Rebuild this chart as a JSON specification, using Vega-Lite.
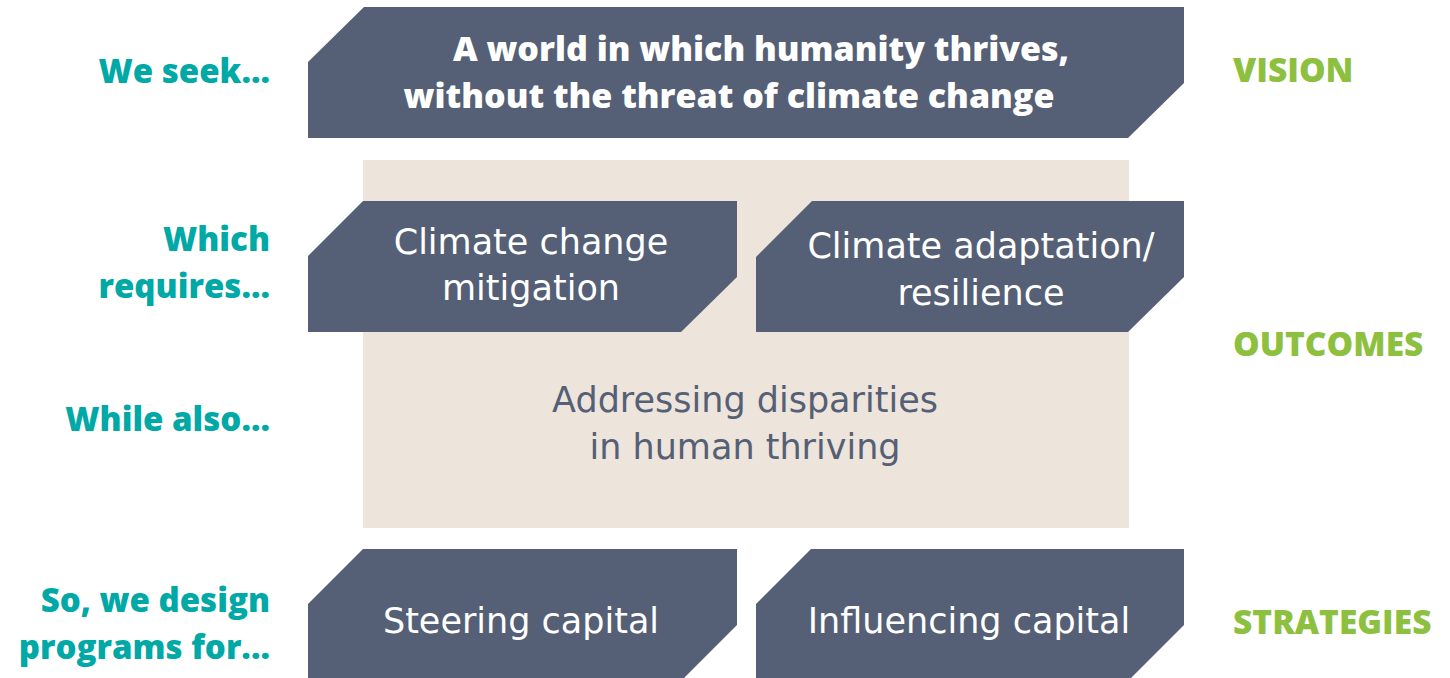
{
  "$schema": "https://vega.github.io/schema/vega-lite/v6.json",
  "width": 1450,
  "height": 678,
  "autosize": {"type": "fit", "contains": "padding"},
  "padding": 0,
  "background": "white",
  "config": {"view": {"stroke": null}},
  "datasets": {
    "panel": [{"name": "outcomes", "x0": 363, "x1": 1129, "y0": 160, "y1": 528}],
    "shapes": [
      {"shape": "vision", "x": 308, "top": 62, "bottom": 138},
      {"shape": "vision", "x": 364, "top": 7, "bottom": 138},
      {"shape": "vision", "x": 1128, "top": 7, "bottom": 138},
      {"shape": "vision", "x": 1184, "top": 7, "bottom": 83},
      {"shape": "mitigation", "x": 308, "top": 256, "bottom": 332},
      {"shape": "mitigation", "x": 363, "top": 201, "bottom": 332},
      {"shape": "mitigation", "x": 681, "top": 201, "bottom": 332},
      {"shape": "mitigation", "x": 737, "top": 201, "bottom": 277},
      {"shape": "adaptation", "x": 756, "top": 257, "bottom": 332},
      {"shape": "adaptation", "x": 812, "top": 201, "bottom": 332},
      {"shape": "adaptation", "x": 1128, "top": 201, "bottom": 332},
      {"shape": "adaptation", "x": 1184, "top": 201, "bottom": 277},
      {"shape": "steering", "x": 308, "top": 604, "bottom": 678},
      {"shape": "steering", "x": 363, "top": 549, "bottom": 678},
      {"shape": "steering", "x": 684, "top": 549, "bottom": 678},
      {"shape": "steering", "x": 737, "top": 549, "bottom": 625},
      {"shape": "influencing", "x": 756, "top": 604, "bottom": 678},
      {"shape": "influencing", "x": 811, "top": 549, "bottom": 678},
      {"shape": "influencing", "x": 1131, "top": 549, "bottom": 678},
      {"shape": "influencing", "x": 1184, "top": 549, "bottom": 625}
    ],
    "texts": [
      {"kind": "left", "label": "We seek...", "x": 270, "y": 73},
      {"kind": "left", "label": "Which", "x": 270, "y": 241},
      {"kind": "left", "label": "requires...", "x": 270, "y": 288},
      {"kind": "left", "label": "While also...", "x": 270, "y": 421},
      {"kind": "left", "label": "So, we design", "x": 270, "y": 602},
      {"kind": "left", "label": "programs for...", "x": 270, "y": 649},
      {"kind": "right", "label": "VISION", "x": 1233, "y": 72},
      {"kind": "right", "label": "OUTCOMES", "x": 1233, "y": 346},
      {"kind": "right", "label": "STRATEGIES", "x": 1233, "y": 624},
      {"kind": "vision", "label": "A world in which humanity thrives,", "x": 761, "y": 51},
      {"kind": "vision", "label": "without the threat of climate change", "x": 729, "y": 98},
      {"kind": "box", "label": "Climate change", "x": 531, "y": 243},
      {"kind": "box", "label": "mitigation", "x": 531, "y": 289},
      {"kind": "box", "label": "Climate adaptation/", "x": 981, "y": 247},
      {"kind": "box", "label": "resilience", "x": 981, "y": 294},
      {"kind": "box", "label": "Steering capital", "x": 521, "y": 622},
      {"kind": "box", "label": "Influencing capital", "x": 969, "y": 622},
      {"kind": "panel", "label": "Addressing disparities", "x": 745, "y": 401},
      {"kind": "panel", "label": "in human thriving", "x": 745, "y": 448}
    ]
  },
  "layer": [
    {
      "data": {"name": "panel"},
      "mark": {"type": "rect", "color": "#ede4db"},
      "encoding": {
        "x": {"field": "x0", "type": "quantitative", "scale": {"domain": [0, 1450], "nice": false, "zero": false}, "axis": null},
        "x2": {"field": "x1"},
        "y": {"field": "y0", "type": "quantitative", "scale": {"domain": [0, 678], "nice": false, "zero": false, "reverse": true}, "axis": null},
        "y2": {"field": "y1"}
      }
    },
    {
      "data": {"name": "shapes"},
      "mark": {"type": "area", "color": "#555f75", "interpolate": "linear"},
      "encoding": {
        "x": {"field": "x", "type": "quantitative", "scale": {"domain": [0, 1450], "nice": false, "zero": false}, "axis": null},
        "y": {"field": "top", "type": "quantitative", "scale": {"domain": [0, 678], "nice": false, "zero": false, "reverse": true}, "axis": null},
        "y2": {"field": "bottom"},
        "detail": {"field": "shape", "type": "nominal"}
      }
    },
    {
      "data": {"name": "texts"},
      "transform": [{"filter": "datum.kind === 'left'"}],
      "mark": {"type": "text", "align": "right", "baseline": "middle", "font": "Open Sans", "fontWeight": 800, "fontSize": 33, "color": "#00a8a6"},
      "encoding": {
        "x": {"field": "x", "type": "quantitative", "scale": {"domain": [0, 1450], "nice": false, "zero": false}, "axis": null},
        "y": {"field": "y", "type": "quantitative", "scale": {"domain": [0, 678], "nice": false, "zero": false, "reverse": true}, "axis": null},
        "text": {"field": "label"}
      }
    },
    {
      "data": {"name": "texts"},
      "transform": [{"filter": "datum.kind === 'right'"}],
      "mark": {"type": "text", "align": "left", "baseline": "middle", "font": "Open Sans", "fontWeight": 800, "fontSize": 33.5, "color": "#8dc03f"},
      "encoding": {
        "x": {"field": "x", "type": "quantitative", "scale": {"domain": [0, 1450], "nice": false, "zero": false}, "axis": null},
        "y": {"field": "y", "type": "quantitative", "scale": {"domain": [0, 678], "nice": false, "zero": false, "reverse": true}, "axis": null},
        "text": {"field": "label"}
      }
    },
    {
      "data": {"name": "texts"},
      "transform": [{"filter": "datum.kind === 'vision'"}],
      "mark": {"type": "text", "align": "center", "baseline": "middle", "font": "Open Sans", "fontWeight": 800, "fontSize": 34, "color": "#ffffff"},
      "encoding": {
        "x": {"field": "x", "type": "quantitative", "scale": {"domain": [0, 1450], "nice": false, "zero": false}, "axis": null},
        "y": {"field": "y", "type": "quantitative", "scale": {"domain": [0, 678], "nice": false, "zero": false, "reverse": true}, "axis": null},
        "text": {"field": "label"}
      }
    },
    {
      "data": {"name": "texts"},
      "transform": [{"filter": "datum.kind === 'box'"}],
      "mark": {"type": "text", "align": "center", "baseline": "middle", "font": "DejaVu Sans", "fontWeight": 400, "fontSize": 35, "color": "#ffffff"},
      "encoding": {
        "x": {"field": "x", "type": "quantitative", "scale": {"domain": [0, 1450], "nice": false, "zero": false}, "axis": null},
        "y": {"field": "y", "type": "quantitative", "scale": {"domain": [0, 678], "nice": false, "zero": false, "reverse": true}, "axis": null},
        "text": {"field": "label"}
      }
    },
    {
      "data": {"name": "texts"},
      "transform": [{"filter": "datum.kind === 'panel'"}],
      "mark": {"type": "text", "align": "center", "baseline": "middle", "font": "DejaVu Sans", "fontWeight": 400, "fontSize": 35, "color": "#555f75"},
      "encoding": {
        "x": {"field": "x", "type": "quantitative", "scale": {"domain": [0, 1450], "nice": false, "zero": false}, "axis": null},
        "y": {"field": "y", "type": "quantitative", "scale": {"domain": [0, 678], "nice": false, "zero": false, "reverse": true}, "axis": null},
        "text": {"field": "label"}
      }
    }
  ]
}
